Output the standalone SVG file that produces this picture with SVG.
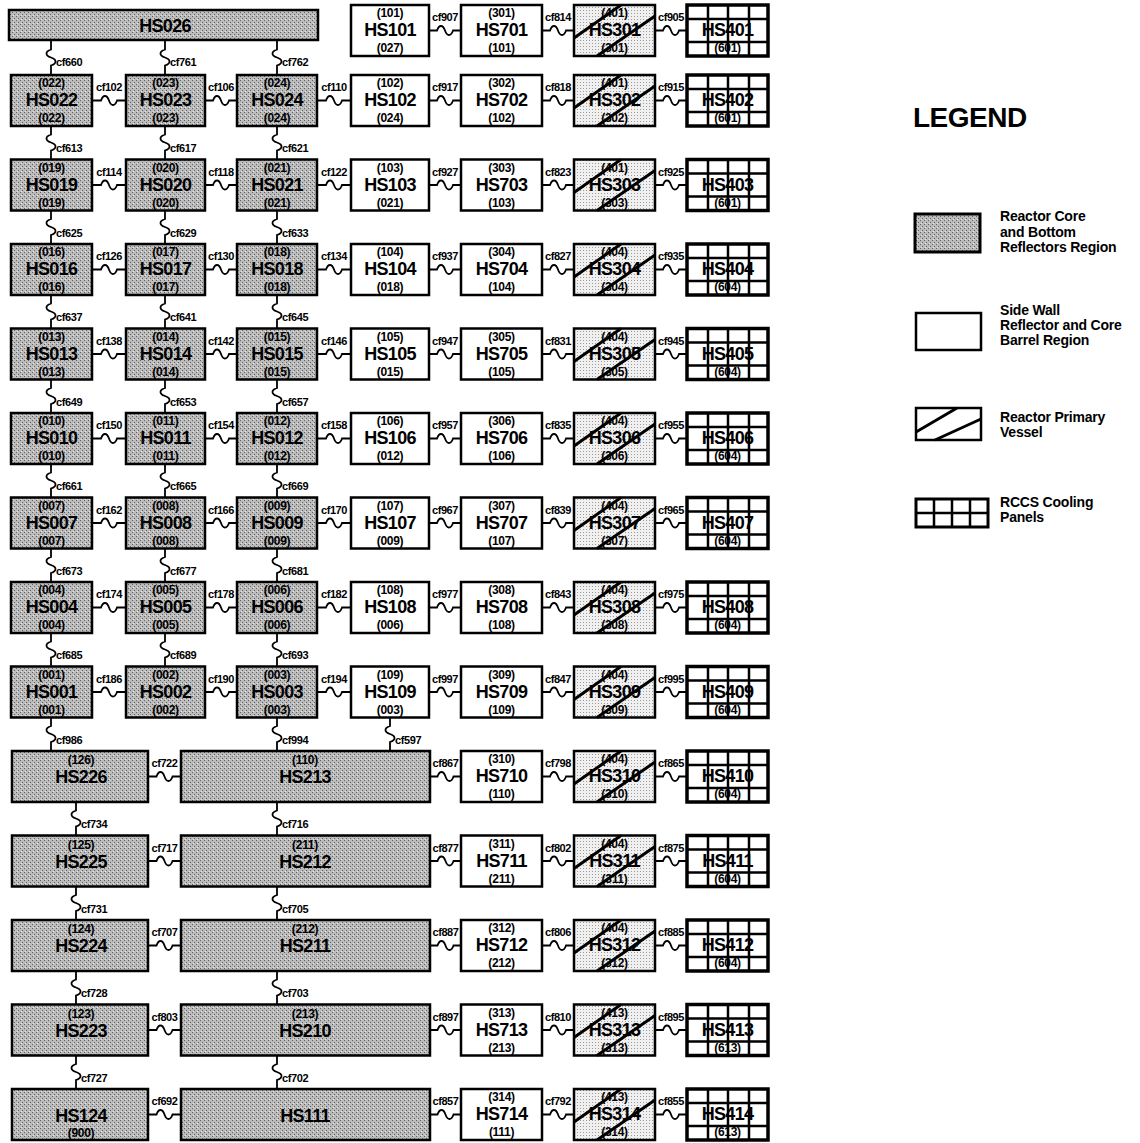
<svg xmlns="http://www.w3.org/2000/svg" width="1140" height="1143" viewBox="0 0 1140 1143">
<defs>
<pattern id="gray" width="4" height="4" patternUnits="userSpaceOnUse"><rect width="4" height="4" fill="#bcbcbc"/><rect width="1" height="1" fill="#606060"/><rect x="2" y="2" width="1" height="1" fill="#606060"/><rect x="1" y="3" width="1" height="1" fill="#e4e4e4"/></pattern>
<pattern id="lite" width="3" height="3" patternUnits="userSpaceOnUse"><rect width="3" height="3" fill="#f0f0f0"/><rect x="1" y="1" width="1" height="1" fill="#9a9a9a"/></pattern>
<g id="hatch"><path d="M0 33L47 0M23 51L81 11" fill="none" stroke="#000" stroke-width="3"/></g>
<g id="grid"><path d="M21 0V51M41 0V51M62 0V51M0 14H81M0 37H81" fill="none" stroke="#000" stroke-width="2.5"/></g>
</defs>
<style>
.core{fill:url(#gray);stroke:#000;stroke-width:2.5}
.wall{fill:#fff;stroke:#000;stroke-width:2.5}
.ves{fill:url(#lite);stroke:#000;stroke-width:2.5}
.rccs{fill:#fff;stroke:#000;stroke-width:3.5}
text{font-family:"Liberation Sans",Arial,sans-serif;font-weight:bold;fill:#000}
.m{font-size:18px;letter-spacing:-0.7px;text-anchor:middle}
.s{font-size:12px;letter-spacing:-0.3px;text-anchor:middle}
.c{font-size:11px;letter-spacing:-0.4px}
.cm{text-anchor:middle}
.w{fill:none;stroke:#000;stroke-width:1.8}
.lg{font-size:14px;letter-spacing:-0.2px}
</style>
<rect width="1140" height="1143" fill="#fff"/>

<g id="connectors">
<path class="w" d="M429 30.5H437c2-6 6-6 8 0s6 6 8 0H461M542 30.5H550c2-6 6-6 8 0s6 6 8 0H574M655 30.5H663c2-6 6-6 8 0s6 6 8 0H687"/>
<path class="w" d="M51 40V49.5c-6 2-6 6 0 8s6 6 0 8V75M165 40V49.5c-6 2-6 6 0 8s6 6 0 8V75M277 40V49.5c-6 2-6 6 0 8s6 6 0 8V75"/>
<g class="c">
<text class="cm" x="445" y="21">cf907</text><text class="cm" x="558" y="21">cf814</text><text class="cm" x="671" y="21">cf905</text>
<text x="56" y="66">cf660</text><text x="170" y="66">cf761</text><text x="282" y="66">cf762</text>
</g>
<path class="w" d="M92 100.5H101c2-6 6-6 8 0s6 6 8 0H126M205 100.5H213c2-6 6-6 8 0s6 6 8 0H237M317 100.5H326c2-6 6-6 8 0s6 6 8 0H351M429 100.5H437c2-6 6-6 8 0s6 6 8 0H461M542 100.5H550c2-6 6-6 8 0s6 6 8 0H574M655 100.5H663c2-6 6-6 8 0s6 6 8 0H687"/>
<path class="w" d="M92 185H101c2-6 6-6 8 0s6 6 8 0H126M205 185H213c2-6 6-6 8 0s6 6 8 0H237M317 185H326c2-6 6-6 8 0s6 6 8 0H351M429 185H437c2-6 6-6 8 0s6 6 8 0H461M542 185H550c2-6 6-6 8 0s6 6 8 0H574M655 185H663c2-6 6-6 8 0s6 6 8 0H687"/>
<path class="w" d="M92 269.5H101c2-6 6-6 8 0s6 6 8 0H126M205 269.5H213c2-6 6-6 8 0s6 6 8 0H237M317 269.5H326c2-6 6-6 8 0s6 6 8 0H351M429 269.5H437c2-6 6-6 8 0s6 6 8 0H461M542 269.5H550c2-6 6-6 8 0s6 6 8 0H574M655 269.5H663c2-6 6-6 8 0s6 6 8 0H687"/>
<path class="w" d="M92 354H101c2-6 6-6 8 0s6 6 8 0H126M205 354H213c2-6 6-6 8 0s6 6 8 0H237M317 354H326c2-6 6-6 8 0s6 6 8 0H351M429 354H437c2-6 6-6 8 0s6 6 8 0H461M542 354H550c2-6 6-6 8 0s6 6 8 0H574M655 354H663c2-6 6-6 8 0s6 6 8 0H687"/>
<path class="w" d="M92 438.5H101c2-6 6-6 8 0s6 6 8 0H126M205 438.5H213c2-6 6-6 8 0s6 6 8 0H237M317 438.5H326c2-6 6-6 8 0s6 6 8 0H351M429 438.5H437c2-6 6-6 8 0s6 6 8 0H461M542 438.5H550c2-6 6-6 8 0s6 6 8 0H574M655 438.5H663c2-6 6-6 8 0s6 6 8 0H687"/>
<path class="w" d="M92 523H101c2-6 6-6 8 0s6 6 8 0H126M205 523H213c2-6 6-6 8 0s6 6 8 0H237M317 523H326c2-6 6-6 8 0s6 6 8 0H351M429 523H437c2-6 6-6 8 0s6 6 8 0H461M542 523H550c2-6 6-6 8 0s6 6 8 0H574M655 523H663c2-6 6-6 8 0s6 6 8 0H687"/>
<path class="w" d="M92 607.5H101c2-6 6-6 8 0s6 6 8 0H126M205 607.5H213c2-6 6-6 8 0s6 6 8 0H237M317 607.5H326c2-6 6-6 8 0s6 6 8 0H351M429 607.5H437c2-6 6-6 8 0s6 6 8 0H461M542 607.5H550c2-6 6-6 8 0s6 6 8 0H574M655 607.5H663c2-6 6-6 8 0s6 6 8 0H687"/>
<path class="w" d="M92 692H101c2-6 6-6 8 0s6 6 8 0H126M205 692H213c2-6 6-6 8 0s6 6 8 0H237M317 692H326c2-6 6-6 8 0s6 6 8 0H351M429 692H437c2-6 6-6 8 0s6 6 8 0H461M542 692H550c2-6 6-6 8 0s6 6 8 0H574M655 692H663c2-6 6-6 8 0s6 6 8 0H687"/>
<path class="w" d="M148 776.5H156.5c2-6 6-6 8 0s6 6 8 0H181M430 776.5H437.5c2-6 6-6 8 0s6 6 8 0H461M542 776.5H550c2-6 6-6 8 0s6 6 8 0H574M655 776.5H663c2-6 6-6 8 0s6 6 8 0H687"/>
<path class="w" d="M148 861H156.5c2-6 6-6 8 0s6 6 8 0H181M430 861H437.5c2-6 6-6 8 0s6 6 8 0H461M542 861H550c2-6 6-6 8 0s6 6 8 0H574M655 861H663c2-6 6-6 8 0s6 6 8 0H687"/>
<path class="w" d="M148 945.5H156.5c2-6 6-6 8 0s6 6 8 0H181M430 945.5H437.5c2-6 6-6 8 0s6 6 8 0H461M542 945.5H550c2-6 6-6 8 0s6 6 8 0H574M655 945.5H663c2-6 6-6 8 0s6 6 8 0H687"/>
<path class="w" d="M148 1030H156.5c2-6 6-6 8 0s6 6 8 0H181M430 1030H437.5c2-6 6-6 8 0s6 6 8 0H461M542 1030H550c2-6 6-6 8 0s6 6 8 0H574M655 1030H663c2-6 6-6 8 0s6 6 8 0H687"/>
<path class="w" d="M148 1114.5H156.5c2-6 6-6 8 0s6 6 8 0H181M430 1114.5H437.5c2-6 6-6 8 0s6 6 8 0H461M542 1114.5H550c2-6 6-6 8 0s6 6 8 0H574M655 1114.5H663c2-6 6-6 8 0s6 6 8 0H687"/>
<path class="w" d="M51 126V134.5c-6 2-6 6 0 8s6 6 0 8V159.5M165 126V134.5c-6 2-6 6 0 8s6 6 0 8V159.5M277 126V134.5c-6 2-6 6 0 8s6 6 0 8V159.5"/>
<path class="w" d="M51 210.5V219c-6 2-6 6 0 8s6 6 0 8V244M165 210.5V219c-6 2-6 6 0 8s6 6 0 8V244M277 210.5V219c-6 2-6 6 0 8s6 6 0 8V244"/>
<path class="w" d="M51 295V303.5c-6 2-6 6 0 8s6 6 0 8V328.5M165 295V303.5c-6 2-6 6 0 8s6 6 0 8V328.5M277 295V303.5c-6 2-6 6 0 8s6 6 0 8V328.5"/>
<path class="w" d="M51 379.5V388c-6 2-6 6 0 8s6 6 0 8V413M165 379.5V388c-6 2-6 6 0 8s6 6 0 8V413M277 379.5V388c-6 2-6 6 0 8s6 6 0 8V413"/>
<path class="w" d="M51 464V472.5c-6 2-6 6 0 8s6 6 0 8V497.5M165 464V472.5c-6 2-6 6 0 8s6 6 0 8V497.5M277 464V472.5c-6 2-6 6 0 8s6 6 0 8V497.5"/>
<path class="w" d="M51 548.5V557c-6 2-6 6 0 8s6 6 0 8V582M165 548.5V557c-6 2-6 6 0 8s6 6 0 8V582M277 548.5V557c-6 2-6 6 0 8s6 6 0 8V582"/>
<path class="w" d="M51 633V641.5c-6 2-6 6 0 8s6 6 0 8V666.5M165 633V641.5c-6 2-6 6 0 8s6 6 0 8V666.5M277 633V641.5c-6 2-6 6 0 8s6 6 0 8V666.5"/>
<path class="w" d="M51 717.5V726c-6 2-6 6 0 8s6 6 0 8V751M277 717.5V726c-6 2-6 6 0 8s6 6 0 8V751M390 717.5V726c-6 2-6 6 0 8s6 6 0 8V751"/>
<path class="w" d="M76 802V810.5c-6 2-6 6 0 8s6 6 0 8V835.5M277 802V810.5c-6 2-6 6 0 8s6 6 0 8V835.5"/>
<path class="w" d="M76 886.5V895c-6 2-6 6 0 8s6 6 0 8V920M277 886.5V895c-6 2-6 6 0 8s6 6 0 8V920"/>
<path class="w" d="M76 971V979.5c-6 2-6 6 0 8s6 6 0 8V1004.5M277 971V979.5c-6 2-6 6 0 8s6 6 0 8V1004.5"/>
<path class="w" d="M76 1055.5V1064c-6 2-6 6 0 8s6 6 0 8V1089M277 1055.5V1064c-6 2-6 6 0 8s6 6 0 8V1089"/>
<g class="c">
<text class="cm" x="109" y="91">cf102</text><text class="cm" x="221" y="91">cf106</text><text class="cm" x="334" y="91">cf110</text><text class="cm" x="445" y="91">cf917</text><text class="cm" x="558" y="91">cf818</text><text class="cm" x="671" y="91">cf915</text>
<text class="cm" x="109" y="175.5">cf114</text><text class="cm" x="221" y="175.5">cf118</text><text class="cm" x="334" y="175.5">cf122</text><text class="cm" x="445" y="175.5">cf927</text><text class="cm" x="558" y="175.5">cf823</text><text class="cm" x="671" y="175.5">cf925</text>
<text class="cm" x="109" y="260">cf126</text><text class="cm" x="221" y="260">cf130</text><text class="cm" x="334" y="260">cf134</text><text class="cm" x="445" y="260">cf937</text><text class="cm" x="558" y="260">cf827</text><text class="cm" x="671" y="260">cf935</text>
<text class="cm" x="109" y="344.5">cf138</text><text class="cm" x="221" y="344.5">cf142</text><text class="cm" x="334" y="344.5">cf146</text><text class="cm" x="445" y="344.5">cf947</text><text class="cm" x="558" y="344.5">cf831</text><text class="cm" x="671" y="344.5">cf945</text>
<text class="cm" x="109" y="429">cf150</text><text class="cm" x="221" y="429">cf154</text><text class="cm" x="334" y="429">cf158</text><text class="cm" x="445" y="429">cf957</text><text class="cm" x="558" y="429">cf835</text><text class="cm" x="671" y="429">cf955</text>
<text class="cm" x="109" y="513.5">cf162</text><text class="cm" x="221" y="513.5">cf166</text><text class="cm" x="334" y="513.5">cf170</text><text class="cm" x="445" y="513.5">cf967</text><text class="cm" x="558" y="513.5">cf839</text><text class="cm" x="671" y="513.5">cf965</text>
<text class="cm" x="109" y="598">cf174</text><text class="cm" x="221" y="598">cf178</text><text class="cm" x="334" y="598">cf182</text><text class="cm" x="445" y="598">cf977</text><text class="cm" x="558" y="598">cf843</text><text class="cm" x="671" y="598">cf975</text>
<text class="cm" x="109" y="682.5">cf186</text><text class="cm" x="221" y="682.5">cf190</text><text class="cm" x="334" y="682.5">cf194</text><text class="cm" x="445" y="682.5">cf997</text><text class="cm" x="558" y="682.5">cf847</text><text class="cm" x="671" y="682.5">cf995</text>
<text class="cm" x="164.5" y="767">cf722</text><text class="cm" x="445.5" y="767">cf867</text><text class="cm" x="558" y="767">cf798</text><text class="cm" x="671" y="767">cf865</text>
<text class="cm" x="164.5" y="851.5">cf717</text><text class="cm" x="445.5" y="851.5">cf877</text><text class="cm" x="558" y="851.5">cf802</text><text class="cm" x="671" y="851.5">cf875</text>
<text class="cm" x="164.5" y="936">cf707</text><text class="cm" x="445.5" y="936">cf887</text><text class="cm" x="558" y="936">cf806</text><text class="cm" x="671" y="936">cf885</text>
<text class="cm" x="164.5" y="1020.5">cf803</text><text class="cm" x="445.5" y="1020.5">cf897</text><text class="cm" x="558" y="1020.5">cf810</text><text class="cm" x="671" y="1020.5">cf895</text>
<text class="cm" x="164.5" y="1105">cf692</text><text class="cm" x="445.5" y="1105">cf857</text><text class="cm" x="558" y="1105">cf792</text><text class="cm" x="671" y="1105">cf855</text>
<text x="56" y="152">cf613</text><text x="170" y="152">cf617</text><text x="282" y="152">cf621</text>
<text x="56" y="236.5">cf625</text><text x="170" y="236.5">cf629</text><text x="282" y="236.5">cf633</text>
<text x="56" y="321">cf637</text><text x="170" y="321">cf641</text><text x="282" y="321">cf645</text>
<text x="56" y="405.5">cf649</text><text x="170" y="405.5">cf653</text><text x="282" y="405.5">cf657</text>
<text x="56" y="490">cf661</text><text x="170" y="490">cf665</text><text x="282" y="490">cf669</text>
<text x="56" y="574.5">cf673</text><text x="170" y="574.5">cf677</text><text x="282" y="574.5">cf681</text>
<text x="56" y="659">cf685</text><text x="170" y="659">cf689</text><text x="282" y="659">cf693</text>
<text x="56" y="743.5">cf986</text><text x="282" y="743.5">cf994</text><text x="395" y="743.5">cf597</text>
<text x="81" y="828">cf734</text><text x="282" y="828">cf716</text>
<text x="81" y="912.5">cf731</text><text x="282" y="912.5">cf705</text>
<text x="81" y="997">cf728</text><text x="282" y="997">cf703</text>
<text x="81" y="1081.5">cf727</text><text x="282" y="1081.5">cf702</text>
</g>
</g>

<g id="HS026"><rect class="core" x="9" y="10" width="309" height="30"/><text class="m" x="165" y="32">HS026</text></g>

<g id="HS101"><rect class="wall" x="351" y="5" width="78" height="51"/><text class="s" x="390" y="17">(101)</text><text class="m" x="390" y="36">HS101</text><text class="s" x="390" y="52">(027)</text></g>
<g id="HS701"><rect class="wall" x="461" y="5" width="81" height="51"/><text class="s" x="501.5" y="17">(301)</text><text class="m" x="501.5" y="36">HS701</text><text class="s" x="501.5" y="52">(101)</text></g>
<g id="HS301"><rect class="ves" x="574" y="5" width="81" height="51"/><use href="#hatch" x="574" y="5"/><text class="s" x="614.5" y="17">(401)</text><text class="m" x="614.5" y="36">HS301</text><text class="s" x="614.5" y="52">(301)</text></g>
<g id="HS401"><rect class="rccs" x="687" y="5" width="81" height="51"/><use href="#grid" x="687" y="5"/><text class="m" x="727.5" y="36">HS401</text><text class="s" x="727.5" y="52">(601)</text></g>

<g id="HS022"><rect class="core" x="11" y="75" width="81" height="51"/><text class="s" x="51.5" y="87">(022)</text><text class="m" x="51.5" y="106">HS022</text><text class="s" x="51.5" y="122">(022)</text></g>
<g id="HS023"><rect class="core" x="126" y="75" width="79" height="51"/><text class="s" x="165.5" y="87">(023)</text><text class="m" x="165.5" y="106">HS023</text><text class="s" x="165.5" y="122">(023)</text></g>
<g id="HS024"><rect class="core" x="237" y="75" width="80" height="51"/><text class="s" x="277" y="87">(024)</text><text class="m" x="277" y="106">HS024</text><text class="s" x="277" y="122">(024)</text></g>
<g id="HS102"><rect class="wall" x="351" y="75" width="78" height="51"/><text class="s" x="390" y="87">(102)</text><text class="m" x="390" y="106">HS102</text><text class="s" x="390" y="122">(024)</text></g>
<g id="HS702"><rect class="wall" x="461" y="75" width="81" height="51"/><text class="s" x="501.5" y="87">(302)</text><text class="m" x="501.5" y="106">HS702</text><text class="s" x="501.5" y="122">(102)</text></g>
<g id="HS302"><rect class="ves" x="574" y="75" width="81" height="51"/><use href="#hatch" x="574" y="75"/><text class="s" x="614.5" y="87">(401)</text><text class="m" x="614.5" y="106">HS302</text><text class="s" x="614.5" y="122">(302)</text></g>
<g id="HS402"><rect class="rccs" x="687" y="75" width="81" height="51"/><use href="#grid" x="687" y="75"/><text class="m" x="727.5" y="106">HS402</text><text class="s" x="727.5" y="122">(601)</text></g>

<g id="HS019"><rect class="core" x="11" y="159.5" width="81" height="51"/><text class="s" x="51.5" y="171.5">(019)</text><text class="m" x="51.5" y="190.5">HS019</text><text class="s" x="51.5" y="206.5">(019)</text></g>
<g id="HS020"><rect class="core" x="126" y="159.5" width="79" height="51"/><text class="s" x="165.5" y="171.5">(020)</text><text class="m" x="165.5" y="190.5">HS020</text><text class="s" x="165.5" y="206.5">(020)</text></g>
<g id="HS021"><rect class="core" x="237" y="159.5" width="80" height="51"/><text class="s" x="277" y="171.5">(021)</text><text class="m" x="277" y="190.5">HS021</text><text class="s" x="277" y="206.5">(021)</text></g>
<g id="HS103"><rect class="wall" x="351" y="159.5" width="78" height="51"/><text class="s" x="390" y="171.5">(103)</text><text class="m" x="390" y="190.5">HS103</text><text class="s" x="390" y="206.5">(021)</text></g>
<g id="HS703"><rect class="wall" x="461" y="159.5" width="81" height="51"/><text class="s" x="501.5" y="171.5">(303)</text><text class="m" x="501.5" y="190.5">HS703</text><text class="s" x="501.5" y="206.5">(103)</text></g>
<g id="HS303"><rect class="ves" x="574" y="159.5" width="81" height="51"/><use href="#hatch" x="574" y="159.5"/><text class="s" x="614.5" y="171.5">(401)</text><text class="m" x="614.5" y="190.5">HS303</text><text class="s" x="614.5" y="206.5">(303)</text></g>
<g id="HS403"><rect class="rccs" x="687" y="159.5" width="81" height="51"/><use href="#grid" x="687" y="159.5"/><text class="m" x="727.5" y="190.5">HS403</text><text class="s" x="727.5" y="206.5">(601)</text></g>

<g id="HS016"><rect class="core" x="11" y="244" width="81" height="51"/><text class="s" x="51.5" y="256">(016)</text><text class="m" x="51.5" y="275">HS016</text><text class="s" x="51.5" y="291">(016)</text></g>
<g id="HS017"><rect class="core" x="126" y="244" width="79" height="51"/><text class="s" x="165.5" y="256">(017)</text><text class="m" x="165.5" y="275">HS017</text><text class="s" x="165.5" y="291">(017)</text></g>
<g id="HS018"><rect class="core" x="237" y="244" width="80" height="51"/><text class="s" x="277" y="256">(018)</text><text class="m" x="277" y="275">HS018</text><text class="s" x="277" y="291">(018)</text></g>
<g id="HS104"><rect class="wall" x="351" y="244" width="78" height="51"/><text class="s" x="390" y="256">(104)</text><text class="m" x="390" y="275">HS104</text><text class="s" x="390" y="291">(018)</text></g>
<g id="HS704"><rect class="wall" x="461" y="244" width="81" height="51"/><text class="s" x="501.5" y="256">(304)</text><text class="m" x="501.5" y="275">HS704</text><text class="s" x="501.5" y="291">(104)</text></g>
<g id="HS304"><rect class="ves" x="574" y="244" width="81" height="51"/><use href="#hatch" x="574" y="244"/><text class="s" x="614.5" y="256">(404)</text><text class="m" x="614.5" y="275">HS304</text><text class="s" x="614.5" y="291">(304)</text></g>
<g id="HS404"><rect class="rccs" x="687" y="244" width="81" height="51"/><use href="#grid" x="687" y="244"/><text class="m" x="727.5" y="275">HS404</text><text class="s" x="727.5" y="291">(604)</text></g>

<g id="HS013"><rect class="core" x="11" y="328.5" width="81" height="51"/><text class="s" x="51.5" y="340.5">(013)</text><text class="m" x="51.5" y="359.5">HS013</text><text class="s" x="51.5" y="375.5">(013)</text></g>
<g id="HS014"><rect class="core" x="126" y="328.5" width="79" height="51"/><text class="s" x="165.5" y="340.5">(014)</text><text class="m" x="165.5" y="359.5">HS014</text><text class="s" x="165.5" y="375.5">(014)</text></g>
<g id="HS015"><rect class="core" x="237" y="328.5" width="80" height="51"/><text class="s" x="277" y="340.5">(015)</text><text class="m" x="277" y="359.5">HS015</text><text class="s" x="277" y="375.5">(015)</text></g>
<g id="HS105"><rect class="wall" x="351" y="328.5" width="78" height="51"/><text class="s" x="390" y="340.5">(105)</text><text class="m" x="390" y="359.5">HS105</text><text class="s" x="390" y="375.5">(015)</text></g>
<g id="HS705"><rect class="wall" x="461" y="328.5" width="81" height="51"/><text class="s" x="501.5" y="340.5">(305)</text><text class="m" x="501.5" y="359.5">HS705</text><text class="s" x="501.5" y="375.5">(105)</text></g>
<g id="HS305"><rect class="ves" x="574" y="328.5" width="81" height="51"/><use href="#hatch" x="574" y="328.5"/><text class="s" x="614.5" y="340.5">(404)</text><text class="m" x="614.5" y="359.5">HS305</text><text class="s" x="614.5" y="375.5">(305)</text></g>
<g id="HS405"><rect class="rccs" x="687" y="328.5" width="81" height="51"/><use href="#grid" x="687" y="328.5"/><text class="m" x="727.5" y="359.5">HS405</text><text class="s" x="727.5" y="375.5">(604)</text></g>

<g id="HS010"><rect class="core" x="11" y="413" width="81" height="51"/><text class="s" x="51.5" y="425">(010)</text><text class="m" x="51.5" y="444">HS010</text><text class="s" x="51.5" y="460">(010)</text></g>
<g id="HS011"><rect class="core" x="126" y="413" width="79" height="51"/><text class="s" x="165.5" y="425">(011)</text><text class="m" x="165.5" y="444">HS011</text><text class="s" x="165.5" y="460">(011)</text></g>
<g id="HS012"><rect class="core" x="237" y="413" width="80" height="51"/><text class="s" x="277" y="425">(012)</text><text class="m" x="277" y="444">HS012</text><text class="s" x="277" y="460">(012)</text></g>
<g id="HS106"><rect class="wall" x="351" y="413" width="78" height="51"/><text class="s" x="390" y="425">(106)</text><text class="m" x="390" y="444">HS106</text><text class="s" x="390" y="460">(012)</text></g>
<g id="HS706"><rect class="wall" x="461" y="413" width="81" height="51"/><text class="s" x="501.5" y="425">(306)</text><text class="m" x="501.5" y="444">HS706</text><text class="s" x="501.5" y="460">(106)</text></g>
<g id="HS306"><rect class="ves" x="574" y="413" width="81" height="51"/><use href="#hatch" x="574" y="413"/><text class="s" x="614.5" y="425">(404)</text><text class="m" x="614.5" y="444">HS306</text><text class="s" x="614.5" y="460">(306)</text></g>
<g id="HS406"><rect class="rccs" x="687" y="413" width="81" height="51"/><use href="#grid" x="687" y="413"/><text class="m" x="727.5" y="444">HS406</text><text class="s" x="727.5" y="460">(604)</text></g>

<g id="HS007"><rect class="core" x="11" y="497.5" width="81" height="51"/><text class="s" x="51.5" y="509.5">(007)</text><text class="m" x="51.5" y="528.5">HS007</text><text class="s" x="51.5" y="544.5">(007)</text></g>
<g id="HS008"><rect class="core" x="126" y="497.5" width="79" height="51"/><text class="s" x="165.5" y="509.5">(008)</text><text class="m" x="165.5" y="528.5">HS008</text><text class="s" x="165.5" y="544.5">(008)</text></g>
<g id="HS009"><rect class="core" x="237" y="497.5" width="80" height="51"/><text class="s" x="277" y="509.5">(009)</text><text class="m" x="277" y="528.5">HS009</text><text class="s" x="277" y="544.5">(009)</text></g>
<g id="HS107"><rect class="wall" x="351" y="497.5" width="78" height="51"/><text class="s" x="390" y="509.5">(107)</text><text class="m" x="390" y="528.5">HS107</text><text class="s" x="390" y="544.5">(009)</text></g>
<g id="HS707"><rect class="wall" x="461" y="497.5" width="81" height="51"/><text class="s" x="501.5" y="509.5">(307)</text><text class="m" x="501.5" y="528.5">HS707</text><text class="s" x="501.5" y="544.5">(107)</text></g>
<g id="HS307"><rect class="ves" x="574" y="497.5" width="81" height="51"/><use href="#hatch" x="574" y="497.5"/><text class="s" x="614.5" y="509.5">(404)</text><text class="m" x="614.5" y="528.5">HS307</text><text class="s" x="614.5" y="544.5">(307)</text></g>
<g id="HS407"><rect class="rccs" x="687" y="497.5" width="81" height="51"/><use href="#grid" x="687" y="497.5"/><text class="m" x="727.5" y="528.5">HS407</text><text class="s" x="727.5" y="544.5">(604)</text></g>

<g id="HS004"><rect class="core" x="11" y="582" width="81" height="51"/><text class="s" x="51.5" y="594">(004)</text><text class="m" x="51.5" y="613">HS004</text><text class="s" x="51.5" y="629">(004)</text></g>
<g id="HS005"><rect class="core" x="126" y="582" width="79" height="51"/><text class="s" x="165.5" y="594">(005)</text><text class="m" x="165.5" y="613">HS005</text><text class="s" x="165.5" y="629">(005)</text></g>
<g id="HS006"><rect class="core" x="237" y="582" width="80" height="51"/><text class="s" x="277" y="594">(006)</text><text class="m" x="277" y="613">HS006</text><text class="s" x="277" y="629">(006)</text></g>
<g id="HS108"><rect class="wall" x="351" y="582" width="78" height="51"/><text class="s" x="390" y="594">(108)</text><text class="m" x="390" y="613">HS108</text><text class="s" x="390" y="629">(006)</text></g>
<g id="HS708"><rect class="wall" x="461" y="582" width="81" height="51"/><text class="s" x="501.5" y="594">(308)</text><text class="m" x="501.5" y="613">HS708</text><text class="s" x="501.5" y="629">(108)</text></g>
<g id="HS308"><rect class="ves" x="574" y="582" width="81" height="51"/><use href="#hatch" x="574" y="582"/><text class="s" x="614.5" y="594">(404)</text><text class="m" x="614.5" y="613">HS308</text><text class="s" x="614.5" y="629">(308)</text></g>
<g id="HS408"><rect class="rccs" x="687" y="582" width="81" height="51"/><use href="#grid" x="687" y="582"/><text class="m" x="727.5" y="613">HS408</text><text class="s" x="727.5" y="629">(604)</text></g>

<g id="HS001"><rect class="core" x="11" y="666.5" width="81" height="51"/><text class="s" x="51.5" y="678.5">(001)</text><text class="m" x="51.5" y="697.5">HS001</text><text class="s" x="51.5" y="713.5">(001)</text></g>
<g id="HS002"><rect class="core" x="126" y="666.5" width="79" height="51"/><text class="s" x="165.5" y="678.5">(002)</text><text class="m" x="165.5" y="697.5">HS002</text><text class="s" x="165.5" y="713.5">(002)</text></g>
<g id="HS003"><rect class="core" x="237" y="666.5" width="80" height="51"/><text class="s" x="277" y="678.5">(003)</text><text class="m" x="277" y="697.5">HS003</text><text class="s" x="277" y="713.5">(003)</text></g>
<g id="HS109"><rect class="wall" x="351" y="666.5" width="78" height="51"/><text class="s" x="390" y="678.5">(109)</text><text class="m" x="390" y="697.5">HS109</text><text class="s" x="390" y="713.5">(003)</text></g>
<g id="HS709"><rect class="wall" x="461" y="666.5" width="81" height="51"/><text class="s" x="501.5" y="678.5">(309)</text><text class="m" x="501.5" y="697.5">HS709</text><text class="s" x="501.5" y="713.5">(109)</text></g>
<g id="HS309"><rect class="ves" x="574" y="666.5" width="81" height="51"/><use href="#hatch" x="574" y="666.5"/><text class="s" x="614.5" y="678.5">(404)</text><text class="m" x="614.5" y="697.5">HS309</text><text class="s" x="614.5" y="713.5">(309)</text></g>
<g id="HS409"><rect class="rccs" x="687" y="666.5" width="81" height="51"/><use href="#grid" x="687" y="666.5"/><text class="m" x="727.5" y="697.5">HS409</text><text class="s" x="727.5" y="713.5">(604)</text></g>

<g id="HS226"><rect class="core" x="12" y="751" width="136" height="51"/><text class="s" x="81" y="764">(126)</text><text class="m" x="81" y="783">HS226</text></g>
<g id="HS213"><rect class="core" x="181" y="751" width="249" height="51"/><text class="s" x="305" y="764">(110)</text><text class="m" x="305" y="783">HS213</text></g>
<g id="HS710"><rect class="wall" x="461" y="751" width="81" height="51"/><text class="s" x="501.5" y="763">(310)</text><text class="m" x="501.5" y="782">HS710</text><text class="s" x="501.5" y="798">(110)</text></g>
<g id="HS310"><rect class="ves" x="574" y="751" width="81" height="51"/><use href="#hatch" x="574" y="751"/><text class="s" x="614.5" y="763">(404)</text><text class="m" x="614.5" y="782">HS310</text><text class="s" x="614.5" y="798">(310)</text></g>
<g id="HS410"><rect class="rccs" x="687" y="751" width="81" height="51"/><use href="#grid" x="687" y="751"/><text class="m" x="727.5" y="782">HS410</text><text class="s" x="727.5" y="798">(604)</text></g>

<g id="HS225"><rect class="core" x="12" y="835.5" width="136" height="51"/><text class="s" x="81" y="848.5">(125)</text><text class="m" x="81" y="867.5">HS225</text></g>
<g id="HS212"><rect class="core" x="181" y="835.5" width="249" height="51"/><text class="s" x="305" y="848.5">(211)</text><text class="m" x="305" y="867.5">HS212</text></g>
<g id="HS711"><rect class="wall" x="461" y="835.5" width="81" height="51"/><text class="s" x="501.5" y="847.5">(311)</text><text class="m" x="501.5" y="866.5">HS711</text><text class="s" x="501.5" y="882.5">(211)</text></g>
<g id="HS311"><rect class="ves" x="574" y="835.5" width="81" height="51"/><use href="#hatch" x="574" y="835.5"/><text class="s" x="614.5" y="847.5">(404)</text><text class="m" x="614.5" y="866.5">HS311</text><text class="s" x="614.5" y="882.5">(311)</text></g>
<g id="HS411"><rect class="rccs" x="687" y="835.5" width="81" height="51"/><use href="#grid" x="687" y="835.5"/><text class="m" x="727.5" y="866.5">HS411</text><text class="s" x="727.5" y="882.5">(604)</text></g>

<g id="HS224"><rect class="core" x="12" y="920" width="136" height="51"/><text class="s" x="81" y="933">(124)</text><text class="m" x="81" y="952">HS224</text></g>
<g id="HS211"><rect class="core" x="181" y="920" width="249" height="51"/><text class="s" x="305" y="933">(212)</text><text class="m" x="305" y="952">HS211</text></g>
<g id="HS712"><rect class="wall" x="461" y="920" width="81" height="51"/><text class="s" x="501.5" y="932">(312)</text><text class="m" x="501.5" y="951">HS712</text><text class="s" x="501.5" y="967">(212)</text></g>
<g id="HS312"><rect class="ves" x="574" y="920" width="81" height="51"/><use href="#hatch" x="574" y="920"/><text class="s" x="614.5" y="932">(404)</text><text class="m" x="614.5" y="951">HS312</text><text class="s" x="614.5" y="967">(312)</text></g>
<g id="HS412"><rect class="rccs" x="687" y="920" width="81" height="51"/><use href="#grid" x="687" y="920"/><text class="m" x="727.5" y="951">HS412</text><text class="s" x="727.5" y="967">(604)</text></g>

<g id="HS223"><rect class="core" x="12" y="1004.5" width="136" height="51"/><text class="s" x="81" y="1017.5">(123)</text><text class="m" x="81" y="1036.5">HS223</text></g>
<g id="HS210"><rect class="core" x="181" y="1004.5" width="249" height="51"/><text class="s" x="305" y="1017.5">(213)</text><text class="m" x="305" y="1036.5">HS210</text></g>
<g id="HS713"><rect class="wall" x="461" y="1004.5" width="81" height="51"/><text class="s" x="501.5" y="1016.5">(313)</text><text class="m" x="501.5" y="1035.5">HS713</text><text class="s" x="501.5" y="1051.5">(213)</text></g>
<g id="HS313"><rect class="ves" x="574" y="1004.5" width="81" height="51"/><use href="#hatch" x="574" y="1004.5"/><text class="s" x="614.5" y="1016.5">(413)</text><text class="m" x="614.5" y="1035.5">HS313</text><text class="s" x="614.5" y="1051.5">(313)</text></g>
<g id="HS413"><rect class="rccs" x="687" y="1004.5" width="81" height="51"/><use href="#grid" x="687" y="1004.5"/><text class="m" x="727.5" y="1035.5">HS413</text><text class="s" x="727.5" y="1051.5">(613)</text></g>

<g id="HS124"><rect class="core" x="12" y="1089" width="136" height="51"/><text class="m" x="81" y="1122">HS124</text><text class="s" x="81" y="1137">(900)</text></g>
<g id="HS111"><rect class="core" x="181" y="1089" width="249" height="51"/><text class="m" x="305" y="1122">HS111</text></g>
<g id="HS714"><rect class="wall" x="461" y="1089" width="81" height="51"/><text class="s" x="501.5" y="1101">(314)</text><text class="m" x="501.5" y="1120">HS714</text><text class="s" x="501.5" y="1136">(111)</text></g>
<g id="HS314"><rect class="ves" x="574" y="1089" width="81" height="51"/><use href="#hatch" x="574" y="1089"/><text class="s" x="614.5" y="1101">(413)</text><text class="m" x="614.5" y="1120">HS314</text><text class="s" x="614.5" y="1136">(314)</text></g>
<g id="HS414"><rect class="rccs" x="687" y="1089" width="81" height="51"/><use href="#grid" x="687" y="1089"/><text class="m" x="727.5" y="1120">HS414</text><text class="s" x="727.5" y="1136">(613)</text></g>

<g id="legend">
<text x="913" y="127" style="font-size:28px;letter-spacing:-0.5px">LEGEND</text>
<rect class="core" x="915" y="214" width="65" height="38" style="stroke-width:3"/>
<text class="lg" x="1000" y="221">Reactor Core</text><text class="lg" x="1000" y="237">and Bottom</text><text class="lg" x="1000" y="252">Reflectors Region</text>
<rect class="wall" x="916" y="313" width="65" height="37"/>
<text class="lg" x="1000" y="315">Side Wall</text><text class="lg" x="1000" y="330">Reflector and Core</text><text class="lg" x="1000" y="345">Barrel Region</text>
<rect class="wall" x="916" y="408" width="65" height="32"/>
<path d="M916 432L957 408M935 440L981 419" fill="none" stroke="#000" stroke-width="3"/>
<text class="lg" x="1000" y="422">Reactor Primary</text><text class="lg" x="1000" y="437">Vessel</text>
<rect class="wall" x="916" y="499" width="72" height="28" style="stroke-width:3"/>
<path d="M934 499V527M952 499V527M970 499V527M916 513H988" fill="none" stroke="#000" stroke-width="2.5"/>
<text class="lg" x="1000" y="507">RCCS Cooling</text><text class="lg" x="1000" y="522">Panels</text>
</g>
</svg>
